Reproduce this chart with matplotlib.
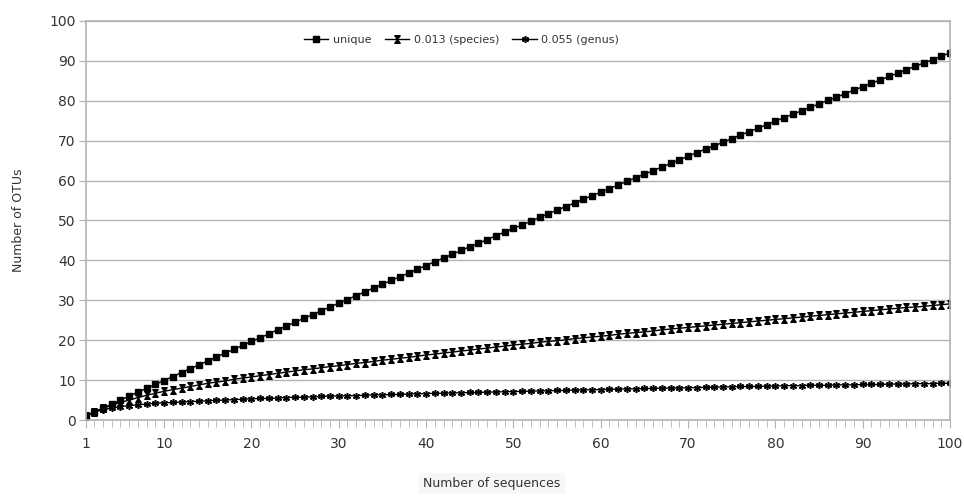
import numpy as np
from matplotlib import pyplot as plt
from matplotlib.path import Path

# number of sequences sampled (category axis 1..100)
n_seqs = list(range(1, 101))

unique = [1.0, 2.0, 3.0, 4.0, 5.0, 6.0, 7.0, 7.9, 8.9, 9.9,
          10.9, 11.9, 12.9, 13.8, 14.8, 15.8, 16.8, 17.7, 18.7, 19.7,
          20.6, 21.6, 22.6, 23.5, 24.5, 25.5, 26.4, 27.4, 28.3, 29.3,
          30.2, 31.2, 32.1, 33.1, 34.0, 35.0, 35.9, 36.8, 37.8, 38.7,
          39.7, 40.6, 41.5, 42.5, 43.4, 44.3, 45.2, 46.2, 47.1, 48.0,
          48.9, 49.8, 50.8, 51.7, 52.6, 53.5, 54.4, 55.3, 56.2, 57.1,
          58.0, 58.9, 59.8, 60.7, 61.6, 62.5, 63.4, 64.3, 65.2, 66.1,
          67.0, 67.9, 68.7, 69.6, 70.5, 71.4, 72.3, 73.1, 74.0, 74.9,
          75.8, 76.6, 77.5, 78.4, 79.2, 80.1, 80.9, 81.8, 82.7, 83.5,
          84.4, 85.2, 86.1, 86.9, 87.8, 88.6, 89.5, 90.3, 91.2, 92.0]

species = [1.0, 2.0, 2.9, 3.7, 4.4, 5.0, 5.6, 6.2, 6.7, 7.2,
           7.6, 8.0, 8.4, 8.8, 9.2, 9.5, 9.8, 10.2, 10.5, 10.8,
           11.1, 11.4, 11.7, 12.0, 12.3, 12.6, 12.8, 13.1, 13.4, 13.6,
           13.9, 14.2, 14.4, 14.7, 15.0, 15.2, 15.5, 15.7, 16.0, 16.3,
           16.5, 16.8, 17.0, 17.3, 17.5, 17.8, 18.0, 18.3, 18.5, 18.8,
           19.0, 19.2, 19.5, 19.7, 19.9, 20.1, 20.4, 20.6, 20.8, 21.0,
           21.2, 21.5, 21.7, 21.9, 22.1, 22.3, 22.6, 22.8, 23.0, 23.2,
           23.4, 23.6, 23.8, 24.0, 24.2, 24.4, 24.6, 24.8, 25.0, 25.2,
           25.4, 25.6, 25.8, 26.0, 26.2, 26.4, 26.6, 26.8, 27.0, 27.2,
           27.4, 27.6, 27.8, 28.0, 28.2, 28.3, 28.5, 28.7, 28.9, 29.1]

genus = [1.0, 2.0, 2.6, 3.0, 3.3, 3.6, 3.8, 4.0, 4.2, 4.3,
         4.4, 4.5, 4.6, 4.7, 4.8, 4.9, 5.0, 5.1, 5.2, 5.3,
         5.4, 5.4, 5.5, 5.6, 5.7, 5.7, 5.8, 5.9, 6.0, 6.0,
         6.1, 6.1, 6.2, 6.3, 6.3, 6.4, 6.4, 6.5, 6.6, 6.6,
         6.7, 6.7, 6.8, 6.8, 6.9, 6.9, 7.0, 7.0, 7.1, 7.1,
         7.2, 7.2, 7.3, 7.3, 7.4, 7.4, 7.5, 7.5, 7.6, 7.6,
         7.7, 7.7, 7.8, 7.8, 7.9, 7.9, 8.0, 8.0, 8.0, 8.1,
         8.1, 8.2, 8.2, 8.3, 8.3, 8.4, 8.4, 8.4, 8.5, 8.5,
         8.6, 8.6, 8.6, 8.7, 8.7, 8.7, 8.8, 8.8, 8.8, 8.9,
         8.9, 8.9, 9.0, 9.0, 9.0, 9.1, 9.1, 9.1, 9.2, 9.2]

series_labels = ["unique", "0.013 (species)", "0.055 (genus)"]
xtick_labels = [1, 10, 20, 30, 40, 50, 60, 70, 80, 90, 100]

grey = "#b3b3b3"
txt = "#333333"

# hourglass marker (bars top and bottom, triangles meeting in the middle)
hourglass = Path([(-0.7, 1), (0.7, 1), (-0.7, -1), (0.7, -1), (-0.7, 1)],
                 [Path.MOVETO, Path.LINETO, Path.LINETO, Path.LINETO, Path.CLOSEPOLY])

fig = plt.figure(figsize=(9.64, 4.96), dpi=100)
ax = fig.add_axes([0.0887, 0.1532, 0.8968, 0.8045])

ax.plot(n_seqs, unique, '-', c='black', lw=1, marker='s', ms=5, label=series_labels[0])
ax.plot(n_seqs, species, '-', c='black', lw=1, marker=hourglass, ms=5.5, label=series_labels[1])
ax.plot(n_seqs, genus, '-', c='black', lw=1, marker=(6, 2, 0), ms=5, mew=1.1, label=series_labels[2])

ax.set_xlim(1, 100)
ax.set_ylim(0, 100)
ax.set_yticks(range(0, 101, 10))
ax.set_xticks(xtick_labels)
ax.set_xticks(n_seqs, minor=True)
ax.yaxis.grid(True, color=grey, lw=1)
ax.set_axisbelow(True)

for s in ax.spines.values():
    s.set_color(grey)
    s.set_linewidth(1.2)
ax.tick_params(axis='both', which='both', color=grey, labelcolor=txt, labelsize=10, direction='out')
ax.tick_params(axis='x', which='major', length=6, pad=6)
ax.tick_params(axis='x', which='minor', length=5)
ax.tick_params(axis='y', length=5, pad=2)

ax.legend(loc='upper center', bbox_to_anchor=(0.435, 0.99), ncol=3, frameon=False,
          fontsize=8, handlelength=2.2, columnspacing=1.2, handletextpad=0.4,
          labelcolor=txt)

fig.text(0.51, 0.025, "Number of sequences", ha='center', va='center', fontsize=9, color=txt,
         bbox=dict(facecolor='#f7f7f7', edgecolor='none', boxstyle='square,pad=0.35'))
fig.text(0.019, 0.555, "Number of OTUs", ha='center', va='center', rotation=90, fontsize=9, color=txt)

fig.savefig("out.png", dpi=100)
